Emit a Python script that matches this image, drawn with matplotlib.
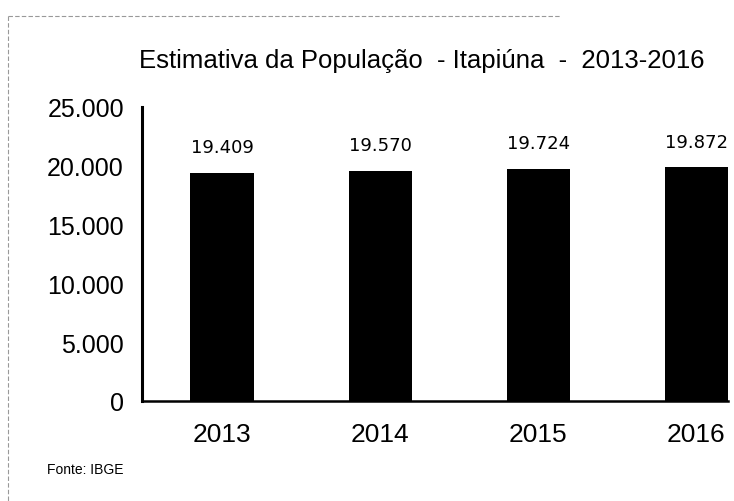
import matplotlib
matplotlib.use("Agg")
import matplotlib.pyplot as plt
from matplotlib.ticker import FuncFormatter

years = ["2013", "2014", "2015", "2016"]
populacao = [19409, 19570, 19724, 19872]
yticks = [0, 5000, 10000, 15000, 20000, 25000]

def fmt(v):
    return f"{int(v):,}".replace(",", ".")

W, H = 734, 502
fig = plt.figure(figsize=(W / 100, H / 100), dpi=100)
fig.patch.set_facecolor("white")

left, right, top, bottom = 142, 728, 108, 402
ax = fig.add_axes([left / W, 1 - bottom / H, (right - left) / W, (bottom - top) / H])

x = list(range(len(years)))
ax.bar(x, populacao, width=0.4, color="black")
ax.set_xlim(-0.506, 3.2)
ax.set_ylim(0, 25000)
ax.set_yticks(yticks)
ax.yaxis.set_major_formatter(FuncFormatter(lambda v, p: fmt(v)))
ax.set_xticks(x)
ax.set_xticklabels(years)

for s in ["top", "right"]:
    ax.spines[s].set_visible(False)
ax.spines["left"].set_linewidth(2.2)
ax.spines["bottom"].set_linewidth(1.8)
ax.tick_params(axis="both", length=0)
ax.tick_params(axis="y", pad=13)
ax.tick_params(axis="x", pad=15)
for lab in ax.get_yticklabels():
    lab.set_fontfamily("Liberation Sans")
    lab.set_fontsize(18)
for lab in ax.get_xticklabels():
    lab.set_fontfamily("Liberation Sans")
    lab.set_fontsize(19)

for xi, v in zip(x, populacao):
    ax.annotate(fmt(v), (xi, v), xytext=(0, 12), textcoords="offset points",
                ha="center", va="bottom", fontsize=13, fontfamily="DejaVu Sans")

fig.text(422 / W, 1 - 61 / H, "Estimativa da População  - Itapiúna  -  2013-2016",
         ha="center", va="center", fontsize=18.5, fontfamily="Liberation Sans")
fig.text(47 / W, 1 - 470 / H, "Fonte: IBGE", ha="left", va="center",
         fontsize=10, fontfamily="Liberation Sans")

# faint scan border
fig.add_artist(plt.Line2D([8 / W, 560 / W], [1 - 17 / H, 1 - 17 / H], color="#999999",
                          lw=0.8, ls=(0, (4, 2))))
fig.add_artist(plt.Line2D([8 / W, 8 / W], [1 - 17 / H, 0], color="#999999",
                          lw=0.8, ls=(0, (4, 2))))

fig.savefig("out.png", dpi=100, facecolor="white")
